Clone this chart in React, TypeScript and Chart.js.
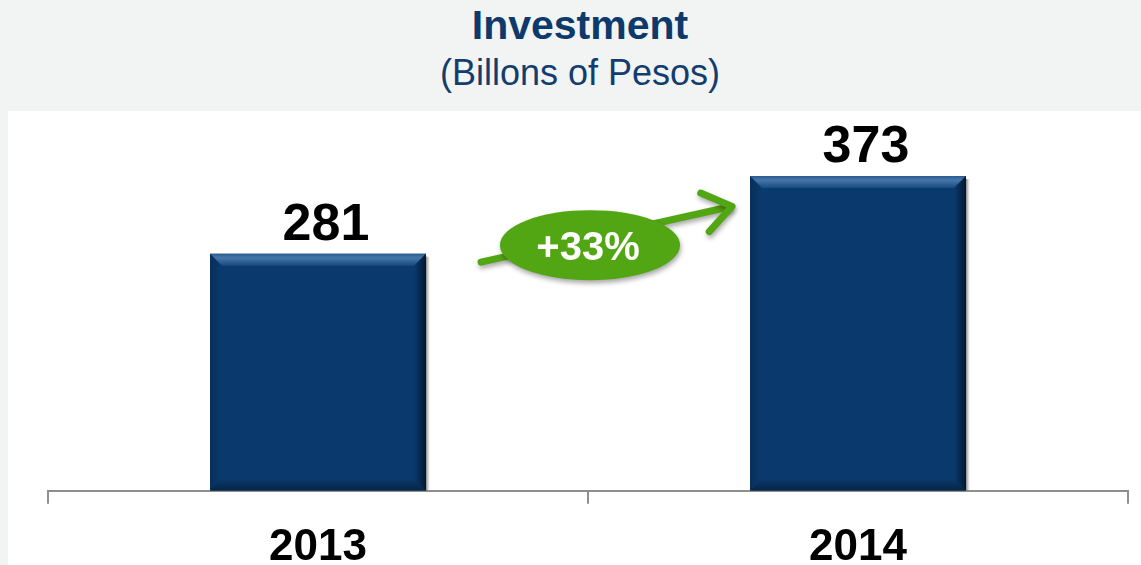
import React, { useEffect, useRef } from "react";
import { Chart, registerables } from "chart.js";

Chart.register(...registerables);

const categories: string[] = ["2013", "2014"];
const investment: number[] = [281, 373];
const titleText = "Investment";
const subtitleText = "(Billons of Pesos)";

const FONT = "'Liberation Sans', Arial, Helvetica, sans-serif";
const NAVY = "#0a3a6d";
const GREEN = "#52a513";

const bevelPlugin = {
  id: "bevel",
  beforeDatasetsDraw(chart: any) {
    const ctx = chart.ctx;
    const meta = chart.getDatasetMeta(0);
    ctx.save();
    meta.data.forEach((bar: any) => {
      const right = bar.x + bar.width / 2;
      const top = bar.y;
      const bottom = bar.base;
      const g = ctx.createLinearGradient(right, 0, right + 4, 0);
      g.addColorStop(0, "rgba(90,90,90,0.75)");
      g.addColorStop(1, "rgba(160,160,160,0.0)");
      ctx.fillStyle = g;
      ctx.fillRect(right, top + 3, 4, bottom - top - 3);
    });
    ctx.restore();
  },
  afterDatasetsDraw(chart: any) {
    const ctx = chart.ctx;
    const meta = chart.getDatasetMeta(0);
    const b = 12;
    ctx.save();
    meta.data.forEach((bar: any) => {
      const left = bar.x - bar.width / 2;
      const right = bar.x + bar.width / 2;
      const top = bar.y;
      const bottom = bar.base;
      let g = ctx.createLinearGradient(0, top, 0, top + b);
      g.addColorStop(0, "#2a5a8f");
      g.addColorStop(0.35, "#4676aa");
      g.addColorStop(1, "#184a80");
      ctx.fillStyle = g;
      ctx.beginPath();
      ctx.moveTo(left, top);
      ctx.lineTo(right, top);
      ctx.lineTo(right - b, top + b);
      ctx.lineTo(left + b, top + b);
      ctx.closePath();
      ctx.fill();
      g = ctx.createLinearGradient(right - b, 0, right, 0);
      g.addColorStop(0, "rgba(2,22,45,0)");
      g.addColorStop(1, "rgba(2,16,34,0.85)");
      ctx.fillStyle = g;
      ctx.beginPath();
      ctx.moveTo(right, top);
      ctx.lineTo(right, bottom);
      ctx.lineTo(right - b, bottom - b);
      ctx.lineTo(right - b, top + b);
      ctx.closePath();
      ctx.fill();
      g = ctx.createLinearGradient(0, bottom - b, 0, bottom);
      g.addColorStop(0, "rgba(2,22,45,0)");
      g.addColorStop(1, "rgba(2,20,40,0.6)");
      ctx.fillStyle = g;
      ctx.beginPath();
      ctx.moveTo(left, bottom);
      ctx.lineTo(right, bottom);
      ctx.lineTo(right - b, bottom - b);
      ctx.lineTo(left + b, bottom - b);
      ctx.closePath();
      ctx.fill();
      g = ctx.createLinearGradient(left, 0, left + b, 0);
      g.addColorStop(0, "rgba(2,22,45,0.3)");
      g.addColorStop(1, "rgba(2,22,45,0)");
      ctx.fillStyle = g;
      ctx.beginPath();
      ctx.moveTo(left, top);
      ctx.lineTo(left + b, top + b);
      ctx.lineTo(left + b, bottom - b);
      ctx.lineTo(left, bottom);
      ctx.closePath();
      ctx.fill();
    });
    ctx.fillStyle = "#000";
    ctx.font = `bold 52px ${FONT}`;
    ctx.textAlign = "center";
    ctx.textBaseline = "alphabetic";
    meta.data.forEach((bar: any, i: number) => {
      ctx.fillText(String(investment[i]), bar.x + 8, bar.y - 14);
    });
    ctx.restore();
  },
};

const growthPlugin = {
  id: "growth",
  afterDraw(chart: any) {
    const ctx = chart.ctx;
    const ys = chart.scales.y;
    const xs = chart.scales.x;
    const bars = chart.getDatasetMeta(0).data;
    if (bars.length < 2) return;
    const sx = bars[0].x + bars[0].width / 2 + 55;
    const sy = ys.getPixelForValue(271);
    const tx = bars[1].x - bars[1].width / 2 - 18;
    const ty = ys.getPixelForValue(337);
    const ang = Math.atan2(ty - sy, tx - sx);
    const arm = 34;
    const spread = 0.62;
    ctx.save();
    ctx.shadowColor = "rgba(0,0,0,0.35)";
    ctx.shadowBlur = 5;
    ctx.shadowOffsetX = 1;
    ctx.shadowOffsetY = 3;
    ctx.strokeStyle = GREEN;
    ctx.lineWidth = 7;
    ctx.lineCap = "round";
    ctx.lineJoin = "round";
    ctx.beginPath();
    ctx.moveTo(sx, sy);
    ctx.lineTo(tx - 3 * Math.cos(ang), ty - 3 * Math.sin(ang));
    ctx.stroke();
    ctx.beginPath();
    ctx.moveTo(tx + arm * Math.cos(ang + Math.PI - spread), ty + arm * Math.sin(ang + Math.PI - spread));
    ctx.lineTo(tx, ty);
    ctx.lineTo(tx + arm * Math.cos(ang + Math.PI + spread), ty + arm * Math.sin(ang + Math.PI + spread));
    ctx.stroke();
    const cx = xs.getPixelForValue(0.5) + 2;
    const cy = ys.getPixelForValue(291);
    ctx.fillStyle = GREEN;
    ctx.beginPath();
    ctx.ellipse(cx, cy, 90, 35, 0, 0, Math.PI * 2);
    ctx.fill();
    ctx.shadowColor = "transparent";
    const pct = Math.round((investment[1] / investment[0] - 1) * 100);
    ctx.fillStyle = "#ffffff";
    ctx.font = `bold 40px ${FONT}`;
    ctx.textAlign = "center";
    ctx.textBaseline = "alphabetic";
    ctx.fillText(`+${pct}%`, cx - 2, cy + 15);
    ctx.restore();
  },
};

export default function App() {
  const canvasRef = useRef<HTMLCanvasElement | null>(null);

  useEffect(() => {
    if (!canvasRef.current) return;
    const chart = new Chart(canvasRef.current, {
      type: "bar",
      data: {
        labels: categories,
        datasets: [
          {
            data: investment,
            backgroundColor: NAVY,
            borderWidth: 0,
            barPercentage: 0.4,
            categoryPercentage: 1,
          },
        ],
      },
      options: {
        animation: false,
        responsive: false,
        maintainAspectRatio: false,
        layout: { padding: { left: 48, right: 13, top: 111, bottom: -26 } },
        plugins: {
          legend: { display: false },
          tooltip: { enabled: false },
          title: { display: false },
        },
        scales: {
          x: {
            grid: {
              display: true,
              drawOnChartArea: false,
              drawTicks: true,
              tickLength: 13,
              color: "#8f8f8f",
              tickColor: "#8f8f8f",
              lineWidth: 2,
              offset: true,
            },
            border: { display: true, color: "#8f8f8f", width: 2 },
            ticks: {
              color: "#000",
              padding: 26,
              font: { family: FONT, size: 44, weight: "bold", lineHeight: 0.8 },
            },
          },
          y: {
            display: false,
            min: 0,
            max: 450,
          },
        },
      },
      plugins: [bevelPlugin, growthPlugin],
    });
    return () => chart.destroy();
  }, []);

  return (
    <div
      style={{
        position: "fixed",
        left: 0,
        top: 0,
        width: 1141,
        height: 565,
        background: "#f2f4f4",
        overflow: "hidden",
      }}
    >
      <div
        style={{
          position: "absolute",
          left: 8,
          top: 111,
          width: 1133,
          height: 454,
          background: "#ffffff",
        }}
      />
      <div
        style={{
          position: "absolute",
          left: 0,
          top: 5,
          width: 1160,
          textAlign: "center",
          fontFamily: FONT,
          fontWeight: "bold",
          fontSize: 41,
          lineHeight: "41px",
          color: "#0d3a6b",
          whiteSpace: "nowrap",
        }}
      >
        {titleText}
      </div>
      <div
        style={{
          position: "absolute",
          left: 0,
          top: 55,
          width: 1160,
          textAlign: "center",
          fontFamily: FONT,
          fontSize: 36,
          lineHeight: "36px",
          color: "#123d6e",
          whiteSpace: "nowrap",
        }}
      >
        {subtitleText}
      </div>
      <canvas
        ref={canvasRef}
        width={1141}
        height={565}
        style={{ position: "absolute", left: 0, top: 0, width: 1141, height: 565 }}
      />
    </div>
  );
}
